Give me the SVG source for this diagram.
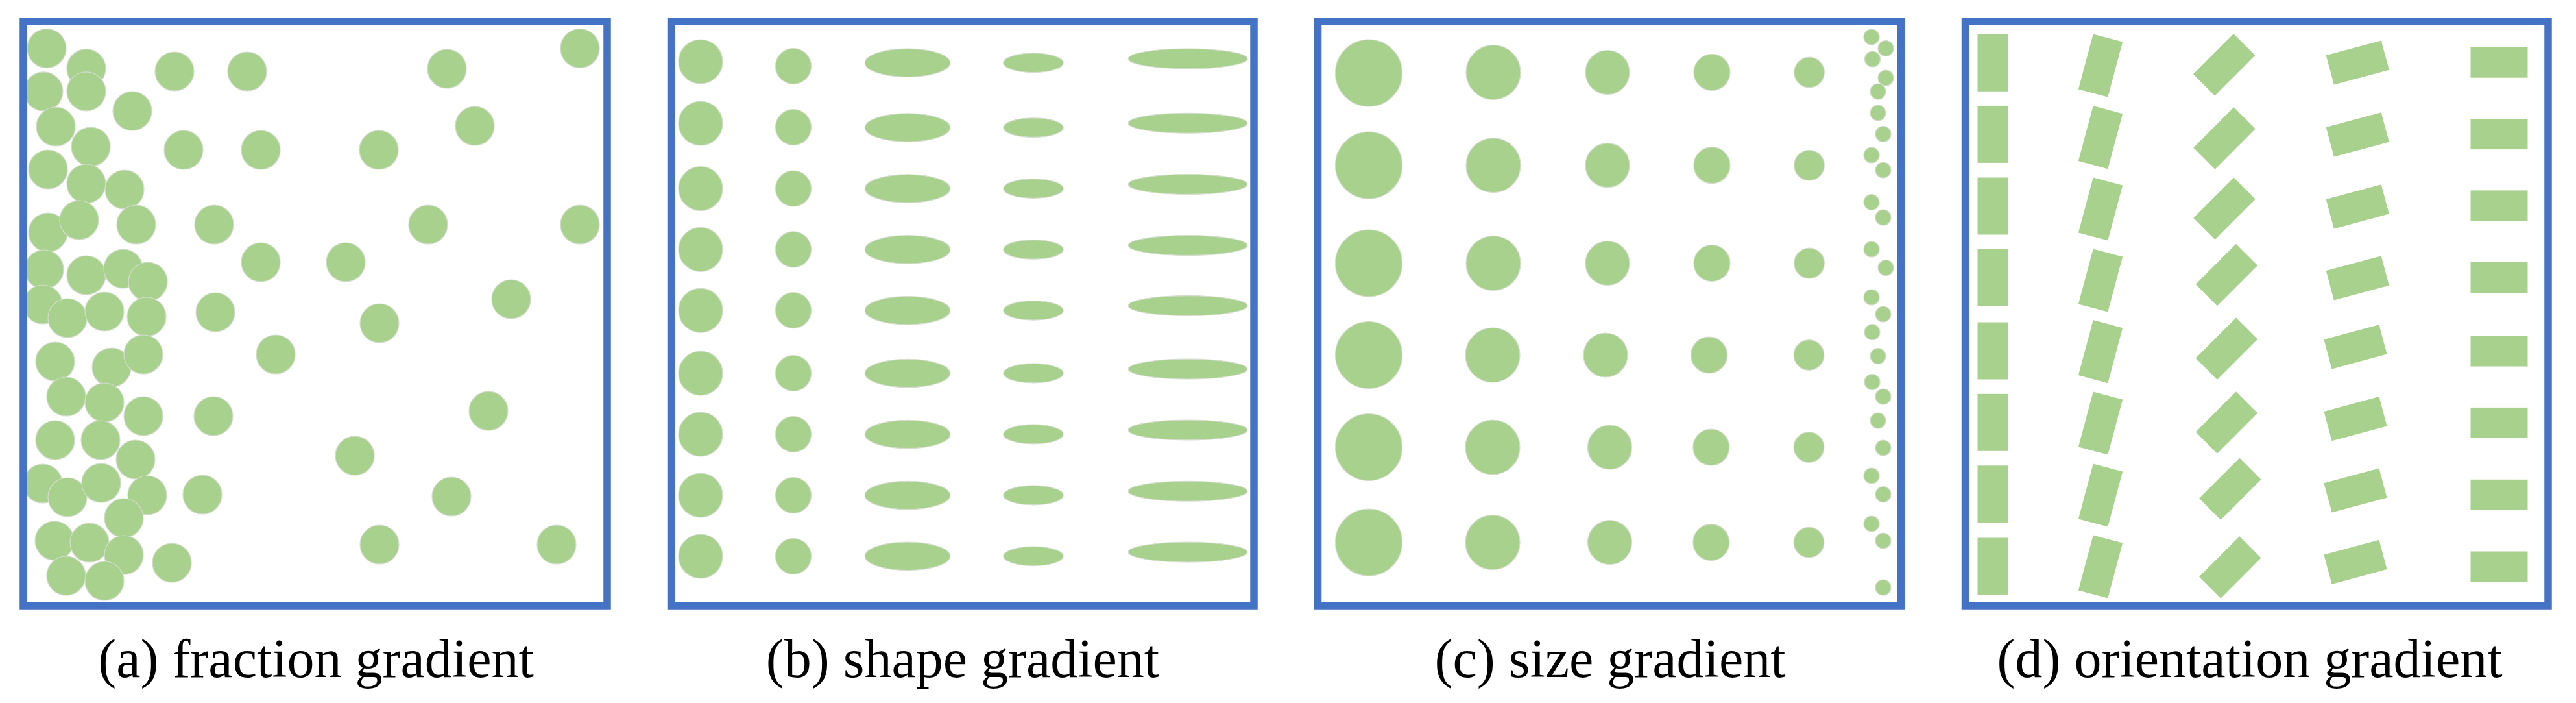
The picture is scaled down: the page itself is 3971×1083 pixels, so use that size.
<svg xmlns="http://www.w3.org/2000/svg" xmlns:xlink="http://www.w3.org/1999/xlink" width="3971" height="1083" viewBox="0 0 3971 1083">
<style>
.g{fill:#A9D18E;stroke:#d4dccd;stroke-width:1.2}
.frame{fill:none;stroke:#4472C4;stroke-width:11.5}
</style>
<defs>
<rect id="bar" x="-23.5" y="-44" width="47" height="88"/>
</defs>
<rect width="3971" height="1083" fill="#fff"/>

<g id="panel-a">
<g class="g">
<circle cx="72" cy="74.5" r="30"/>
<circle cx="133" cy="105.6" r="30"/>
<circle cx="67" cy="140.8" r="30"/>
<circle cx="133" cy="140.8" r="30"/>
<circle cx="269" cy="110" r="30"/>
<circle cx="381" cy="110" r="30"/>
<circle cx="689" cy="106" r="30"/>
<circle cx="894" cy="74.5" r="30"/>
<circle cx="204" cy="171" r="30"/>
<circle cx="86" cy="195" r="30"/>
<circle cx="140" cy="226" r="30"/>
<circle cx="283" cy="231" r="30"/>
<circle cx="402" cy="231" r="30"/>
<circle cx="584" cy="231" r="30"/>
<circle cx="732" cy="194" r="30"/>
<circle cx="74" cy="261" r="30"/>
<circle cx="133" cy="283" r="30"/>
<circle cx="192" cy="292" r="30"/>
<circle cx="74" cy="358" r="30"/>
<circle cx="122" cy="339" r="30"/>
<circle cx="210" cy="346" r="30"/>
<circle cx="330" cy="346" r="30"/>
<circle cx="660" cy="346" r="30"/>
<circle cx="894" cy="346" r="30"/>
<circle cx="402" cy="404" r="30"/>
<circle cx="533" cy="404" r="30"/>
<circle cx="68" cy="415" r="30"/>
<circle cx="133" cy="424" r="30"/>
<circle cx="190" cy="414" r="30"/>
<circle cx="228" cy="434" r="30"/>
<circle cx="788" cy="461" r="30"/>
<circle cx="66" cy="469" r="30"/>
<circle cx="104" cy="490" r="30"/>
<circle cx="161" cy="480" r="30"/>
<circle cx="226" cy="488" r="30"/>
<circle cx="332" cy="481" r="30"/>
<circle cx="585" cy="498" r="30"/>
<circle cx="425" cy="546" r="30"/>
<circle cx="85" cy="557" r="30"/>
<circle cx="172" cy="566" r="30"/>
<circle cx="221" cy="546" r="30"/>
<circle cx="102" cy="611" r="30"/>
<circle cx="161" cy="620" r="30"/>
<circle cx="221" cy="641" r="30"/>
<circle cx="329" cy="641" r="30"/>
<circle cx="753" cy="633" r="30"/>
<circle cx="85" cy="678" r="30"/>
<circle cx="155" cy="678" r="30"/>
<circle cx="209" cy="708" r="30"/>
<circle cx="547" cy="702" r="30"/>
<circle cx="66" cy="745" r="30"/>
<circle cx="104" cy="766" r="30"/>
<circle cx="156" cy="744" r="30"/>
<circle cx="227" cy="763" r="30"/>
<circle cx="312" cy="762" r="30"/>
<circle cx="696" cy="765" r="30"/>
<circle cx="191" cy="798" r="30"/>
<circle cx="84" cy="833" r="30"/>
<circle cx="138" cy="836" r="30"/>
<circle cx="191" cy="855" r="30"/>
<circle cx="265" cy="867" r="30"/>
<circle cx="585" cy="839" r="30"/>
<circle cx="858" cy="839" r="30"/>
<circle cx="102" cy="887" r="30"/>
<circle cx="161" cy="895" r="30"/>
</g>
<rect class="frame" x="36" y="33" width="900" height="900"/>
</g>

<g id="panel-b">
<g class="g">
<circle cx="1080" cy="95" r="34"/><circle cx="1080" cy="190" r="34"/><circle cx="1080" cy="290.5" r="34"/>
<circle cx="1080" cy="384.3" r="34"/><circle cx="1080" cy="478.2" r="34"/><circle cx="1080" cy="575" r="34"/>
<circle cx="1080" cy="669" r="34"/><circle cx="1080" cy="763" r="34"/><circle cx="1080" cy="857" r="34"/>

<circle cx="1223" cy="102" r="27.5"/><circle cx="1223" cy="196" r="27.5"/><circle cx="1223" cy="290.5" r="27.5"/>
<circle cx="1223" cy="384.3" r="27.5"/><circle cx="1223" cy="478.2" r="27.5"/><circle cx="1223" cy="575" r="27.5"/>
<circle cx="1223" cy="669" r="27.5"/><circle cx="1223" cy="763" r="27.5"/><circle cx="1223" cy="857" r="27.5"/>

<ellipse cx="1399" cy="96.8" rx="65.7" ry="21.7"/><ellipse cx="1399" cy="196.6" rx="65.7" ry="21.7"/><ellipse cx="1399" cy="290.5" rx="65.7" ry="21.7"/>
<ellipse cx="1399" cy="384.4" rx="65.7" ry="21.7"/><ellipse cx="1399" cy="478.3" rx="65.7" ry="21.7"/><ellipse cx="1399" cy="575" rx="65.7" ry="21.7"/>
<ellipse cx="1399" cy="669" rx="65.7" ry="21.7"/><ellipse cx="1399" cy="763" rx="65.7" ry="21.7"/><ellipse cx="1399" cy="856.8" rx="65.7" ry="21.7"/>

<ellipse cx="1593" cy="96.8" rx="46.2" ry="14.8"/><ellipse cx="1593" cy="196.6" rx="46.2" ry="14.8"/><ellipse cx="1593" cy="290.5" rx="46.2" ry="14.8"/>
<ellipse cx="1593" cy="384.4" rx="46.2" ry="14.8"/><ellipse cx="1593" cy="478.3" rx="46.2" ry="14.8"/><ellipse cx="1593" cy="575" rx="46.2" ry="14.8"/>
<ellipse cx="1593" cy="669" rx="46.2" ry="14.8"/><ellipse cx="1593" cy="763" rx="46.2" ry="14.8"/><ellipse cx="1593" cy="856.8" rx="46.2" ry="14.8"/>

<ellipse cx="1831" cy="90.4" rx="91.8" ry="15.4"/><ellipse cx="1831" cy="189.8" rx="91.8" ry="15.4"/><ellipse cx="1831" cy="284" rx="91.8" ry="15.4"/>
<ellipse cx="1831" cy="378" rx="91.8" ry="15.4"/><ellipse cx="1831" cy="471" rx="91.8" ry="15.4"/><ellipse cx="1831" cy="568.6" rx="91.8" ry="15.4"/>
<ellipse cx="1831" cy="662.5" rx="91.8" ry="15.4"/><ellipse cx="1831" cy="756.7" rx="91.8" ry="15.4"/><ellipse cx="1831" cy="850.6" rx="91.8" ry="15.4"/>
</g>
<rect class="frame" x="1034.5" y="33" width="898.5" height="900"/>
</g>

<g id="panel-c">
<g class="g">
<circle cx="2110" cy="112.5" r="51.5"/><circle cx="2110" cy="254.7" r="51.5"/><circle cx="2110" cy="405.5" r="51.5"/>
<circle cx="2110" cy="547" r="51.5"/><circle cx="2110" cy="689" r="51.5"/><circle cx="2110" cy="835.6" r="51.5"/>

<circle cx="2302" cy="111.5" r="42"/><circle cx="2302" cy="254.7" r="42"/><circle cx="2302" cy="405.5" r="42"/>
<circle cx="2301" cy="547" r="42"/><circle cx="2301" cy="689" r="42"/><circle cx="2301" cy="835.6" r="42"/>

<circle cx="2478" cy="111.5" r="34"/><circle cx="2478" cy="254.7" r="34"/><circle cx="2478" cy="405.5" r="34"/>
<circle cx="2475" cy="547" r="34"/><circle cx="2481.5" cy="689" r="34"/><circle cx="2481.5" cy="835.6" r="34"/>

<circle cx="2639" cy="111.5" r="28"/><circle cx="2639" cy="254.7" r="28"/><circle cx="2639" cy="405.5" r="28"/>
<circle cx="2634.6" cy="547" r="28"/><circle cx="2637.8" cy="689" r="28"/><circle cx="2637.8" cy="835.6" r="28"/>

<circle cx="2789" cy="111.5" r="23.3"/><circle cx="2789" cy="254.7" r="23.3"/><circle cx="2789" cy="405.5" r="23.3"/>
<circle cx="2788.5" cy="547" r="23.3"/><circle cx="2788.5" cy="689" r="23.3"/><circle cx="2788.5" cy="835.6" r="23.3"/>

<circle cx="2885" cy="57" r="12"/><circle cx="2907" cy="74.5" r="12"/><circle cx="2886.5" cy="91" r="12"/>
<circle cx="2907" cy="120" r="12"/><circle cx="2895" cy="141" r="12"/><circle cx="2895" cy="174" r="12"/>
<circle cx="2903" cy="206.5" r="12"/><circle cx="2885" cy="239" r="12"/><circle cx="2903" cy="262" r="12"/>
<circle cx="2885" cy="311.6" r="12"/><circle cx="2903" cy="335" r="12"/><circle cx="2885" cy="384" r="12"/>
<circle cx="2907" cy="412.5" r="12"/><circle cx="2885" cy="458" r="12"/><circle cx="2903" cy="484" r="12"/>
<circle cx="2886" cy="511.7" r="12"/><circle cx="2895" cy="548.6" r="12"/><circle cx="2886" cy="588.5" r="12"/>
<circle cx="2903" cy="611" r="12"/><circle cx="2895" cy="648" r="12"/><circle cx="2903" cy="690" r="12"/>
<circle cx="2885" cy="733" r="12"/><circle cx="2903" cy="761.6" r="12"/><circle cx="2885" cy="807" r="12"/>
<circle cx="2903" cy="833" r="12"/><circle cx="2903" cy="905" r="12"/>
</g>
<rect class="frame" x="2031.5" y="33" width="899" height="900"/>
</g>

<g id="panel-d">
<g fill="#A9D18E">
<use xlink:href="#bar" transform="translate(3072,96.8)"/>
<use xlink:href="#bar" transform="translate(3072,206.9)"/>
<use xlink:href="#bar" transform="translate(3072,317.5)"/>
<use xlink:href="#bar" transform="translate(3072,427.8)"/>
<use xlink:href="#bar" transform="translate(3072,540.5)"/>
<use xlink:href="#bar" transform="translate(3072,650.8)"/>
<use xlink:href="#bar" transform="translate(3072,761.3)"/>
<use xlink:href="#bar" transform="translate(3072,872.5)"/>

<use xlink:href="#bar" transform="translate(3238,101) rotate(15)"/>
<use xlink:href="#bar" transform="translate(3238,211.6) rotate(15)"/>
<use xlink:href="#bar" transform="translate(3238,322) rotate(15)"/>
<use xlink:href="#bar" transform="translate(3238,432) rotate(15)"/>
<use xlink:href="#bar" transform="translate(3238,541.7) rotate(15)"/>
<use xlink:href="#bar" transform="translate(3238,652) rotate(15)"/>
<use xlink:href="#bar" transform="translate(3238,763) rotate(15)"/>
<use xlink:href="#bar" transform="translate(3238,873) rotate(15)"/>

<use xlink:href="#bar" transform="translate(3428.6,99.8) rotate(45)"/>
<use xlink:href="#bar" transform="translate(3429,213) rotate(45)"/>
<use xlink:href="#bar" transform="translate(3429,321.3) rotate(45)"/>
<use xlink:href="#bar" transform="translate(3432.4,423.4) rotate(45)"/>
<use xlink:href="#bar" transform="translate(3432.4,537.2) rotate(45)"/>
<use xlink:href="#bar" transform="translate(3432.4,651) rotate(45)"/>
<use xlink:href="#bar" transform="translate(3437.8,753.2) rotate(45)"/>
<use xlink:href="#bar" transform="translate(3437.8,874) rotate(45)"/>

<use xlink:href="#bar" transform="translate(3634.3,96.5) rotate(75)"/>
<use xlink:href="#bar" transform="translate(3634.3,207.4) rotate(75)"/>
<use xlink:href="#bar" transform="translate(3634.3,318.3) rotate(75)"/>
<use xlink:href="#bar" transform="translate(3634.3,428.4) rotate(75)"/>
<use xlink:href="#bar" transform="translate(3631,534.3) rotate(75)"/>
<use xlink:href="#bar" transform="translate(3631,645.2) rotate(75)"/>
<use xlink:href="#bar" transform="translate(3631,755.5) rotate(75)"/>
<use xlink:href="#bar" transform="translate(3631,865.8) rotate(75)"/>

<use xlink:href="#bar" transform="translate(3852.5,96.2) rotate(90)"/>
<use xlink:href="#bar" transform="translate(3852.5,206.6) rotate(90)"/>
<use xlink:href="#bar" transform="translate(3852.5,316.9) rotate(90)"/>
<use xlink:href="#bar" transform="translate(3852.5,427.5) rotate(90)"/>
<use xlink:href="#bar" transform="translate(3852.5,541) rotate(90)"/>
<use xlink:href="#bar" transform="translate(3852.5,651.4) rotate(90)"/>
<use xlink:href="#bar" transform="translate(3852.5,762.3) rotate(90)"/>
<use xlink:href="#bar" transform="translate(3852.5,873) rotate(90)"/>
</g>
<rect class="frame" x="3029.5" y="33" width="898.5" height="900"/>
</g>

<g id="labels" font-size="84" text-anchor="middle">
<text id="label-a" x="487" y="1043" font-family="Liberation Serif">(a) fraction gradient</text>
<text id="label-b" x="1484" y="1043" font-family="Liberation Serif">(b) shape gradient</text>
<text id="label-c" x="2482" y="1043" font-family="Liberation Serif">(c) size gradient</text>
<text id="label-d" x="3468" y="1043" font-family="Liberation Serif">(d) orientation gradient</text>
</g>
</svg>
